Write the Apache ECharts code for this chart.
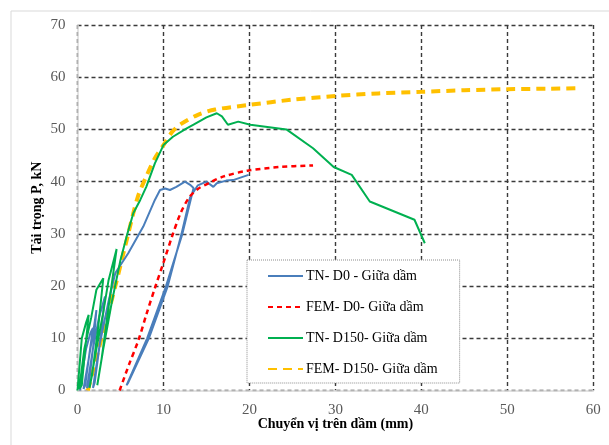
<!DOCTYPE html>
<html>
<head>
<meta charset="utf-8">
<script src="https://cdn.jsdelivr.net/npm/echarts@6/dist/echarts.min.js"></script>
<style>
	html, body { margin: 0; padding: 0; background: #fff; }
	#main { width: 609px; height: 445px; }
</style>
</head>
<body>
<div id="main"></div>
<script>
// Tên chuỗi (legend)
const seriesNames = ['TN- D0 - Giữa dầm', 'FEM- D0- Giữa dầm', 'TN- D150- Giữa dầm', 'FEM- D150- Giữa dầm'];

// TN - D0 (thí nghiệm, có các vòng gia tải / dỡ tải)
const tnD0 = [
	[0.3, 0], [0.6, 4], [1.0, 8], [1.5, 11], [1.8, 12],
	[1.3, 6], [0.9, 1], [0.7, 0.3],
	[1.3, 6], [1.9, 12], [2.2, 15.4],
	[1.8, 8], [1.3, 1], [1.1, 0.5],
	[1.8, 8], [2.5, 14], [3.2, 18],
	[2.6, 9], [2.0, 1.5], [1.8, 0.5],
	[2.6, 9], [3.6, 17], [4.4, 22.5], [5.9, 26.3], [7.65, 31.4], [9, 36.5], [9.6, 38.4],
	[10.2, 38.7], [10.75, 38.4], [11.5, 39], [12.5, 40], [13.1, 39.4], [13.5, 38.8],
	[12.2, 30], [10.3, 20], [8.1, 10], [5.7, 1],
	[5.9, 1.5], [8.3, 10], [10.5, 20], [12.1, 30], [13.1, 37], [14, 39.3], [15, 40],
	[15.8, 39], [16.2, 39.7], [17.3, 40.2], [18.1, 40.3], [19.9, 41.3]
];

// FEM - D0
const femD0 = [
	[4.9, 0], [6, 5], [7.1, 9.7], [8, 14.5], [9, 19.6], [10, 24.5], [11, 29.5], [12, 34],
	[13, 37], [14, 38.6], [15.5, 39.9], [17, 41], [19.8, 42.1], [23.5, 42.8], [27.4, 43.1]
];

// TN - D150
const tnD150 = [
	[0, 0], [0.3, 6], [0.5, 10], [1.0, 13], [1.3, 14.5],
	[0.9, 8], [0.5, 1], [0.2, 0.3],
	[0.8, 8], [1.6, 14], [2.2, 19.3], [3.0, 21.5],
	[2.4, 12], [1.7, 3], [1.4, 0.5],
	[2.2, 8], [3.0, 15], [3.6, 21], [4.55, 27.1],
	[3.7, 17], [2.8, 6], [2.3, 1],
	[3.0, 8], [4.0, 17], [5.0, 25], [5.8, 30], [6.5, 34], [7.3, 36.5], [8, 39], [9, 43.5],
	[10, 47], [11.1, 48.6], [12.7, 50.2], [13.5, 50.9], [15, 52.3], [16.2, 53.1], [16.8, 52.5],
	[17.5, 50.9], [18.7, 51.5], [20.1, 50.9], [24.3, 50], [27.4, 46.4], [29.8, 42.8],
	[31.9, 41.3], [34, 36.2], [39.2, 32.7], [40.4, 28.2]
];

// FEM - D150
const femD150 = [
	[1.2, 0], [2.8, 10], [4.4, 20], [5.9, 30], [7.0, 37], [8.0, 41], [9.0, 44.5], [10, 47],
	[11, 49.5], [12, 51], [14, 52.8], [16, 53.8], [20, 54.7], [25, 55.7], [30, 56.4],
	[35, 56.9], [40, 57.2], [45, 57.5], [50, 57.7], [55, 57.8], [58.2, 57.9]
];

// Trục
const xTicks = { min: 0, max: 60, interval: 10 };
const yTicks = { min: 0, max: 70, interval: 10 };

const serifFont = '"Liberation Serif", "DejaVu Serif", serif';
const gridDash = { color: '#3a3a3a', width: 1.4, type: [4, 3] };

let myChart = echarts.init(document.getElementById('main'), null, { renderer: 'canvas' });

let option = {
	animation: false,
	backgroundColor: '#fff',
	graphic: [
		{
			type: 'rect',
			shape: { x: 11, y: 11, width: 640, height: 480 },
			style: { fill: 'none', stroke: '#d9d9d9', lineWidth: 1 },
			silent: true,
			z: -10,
		},
	],
	grid: { left: 77.5, right: 15.7, top: 25, bottom: 54.5 },
	legend: {
		left: 247,
		top: 260,
		orient: 'vertical',
		backgroundColor: '#fff',
		borderColor: '#8c8c8c',
		borderWidth: 1,
		borderType: 'dotted',
		padding: [9, 22, 7, 20],
		itemWidth: 35,
		itemHeight: 14,
		itemGap: 17,
		itemStyle: { opacity: 0 },
		textStyle: { fontFamily: serifFont, fontSize: 14, color: '#000', padding: [0, 0, 0, -2] },
		data: seriesNames,
		z: 10,
	},
	xAxis: {
		type: 'value',
		min: xTicks.min,
		max: xTicks.max,
		interval: xTicks.interval,
		name: 'Chuyển vị trên dầm (mm)',
		nameLocation: 'middle',
		nameGap: 27,
		nameMoveOverlap: false,
		nameTextStyle: { fontFamily: serifFont, fontSize: 14, fontWeight: 'bold', color: '#000' },
		axisLine: { show: true, lineStyle: { color: '#d9d9d9', width: 1.5 } },
		axisTick: { show: false },
		axisLabel: { fontFamily: serifFont, fontSize: 15, color: '#595959', margin: 12 },
		splitLine: { show: true, lineStyle: gridDash },
	},
	yAxis: {
		type: 'value',
		min: yTicks.min,
		max: yTicks.max,
		interval: yTicks.interval,
		name: 'Tải trọng P, kN',
		nameLocation: 'middle',
		nameGap: 33,
		nameMoveOverlap: false,
		nameTextStyle: { fontFamily: serifFont, fontSize: 14, fontWeight: 'bold', color: '#000' },
		axisLine: { show: true, lineStyle: { color: '#d9d9d9', width: 1.5 } },
		axisTick: { show: false },
		axisLabel: { fontFamily: serifFont, fontSize: 15, color: '#595959', margin: 12 },
		splitLine: { show: true, lineStyle: gridDash },
	},
	series: [
		{
			name: seriesNames[0],
			type: 'line',
			symbol: 'none',
			data: tnD0,
			lineStyle: { color: '#4a7ebb', width: 2 },
			itemStyle: { color: '#4a7ebb' },
			z: 3,
		},
		{
			name: seriesNames[1],
			type: 'line',
			symbol: 'none',
			smooth: 0.3,
			data: femD0,
			lineStyle: { color: '#ff0000', width: 2.5, type: [5, 4] },
			itemStyle: { color: '#ff0000' },
			z: 4,
		},
		{
			name: seriesNames[2],
			type: 'line',
			symbol: 'none',
			data: tnD150,
			lineStyle: { color: '#00b050', width: 2 },
			itemStyle: { color: '#00b050' },
			z: 3,
		},
		{
			name: seriesNames[3],
			type: 'line',
			symbol: 'none',
			smooth: 0.3,
			data: femD150,
			lineStyle: { color: '#ffc000', width: 4, type: [9, 6] },
			itemStyle: { color: '#ffc000' },
			z: 2,
		},
	],
};

myChart.setOption(option);
</script>
</body>
</html>
